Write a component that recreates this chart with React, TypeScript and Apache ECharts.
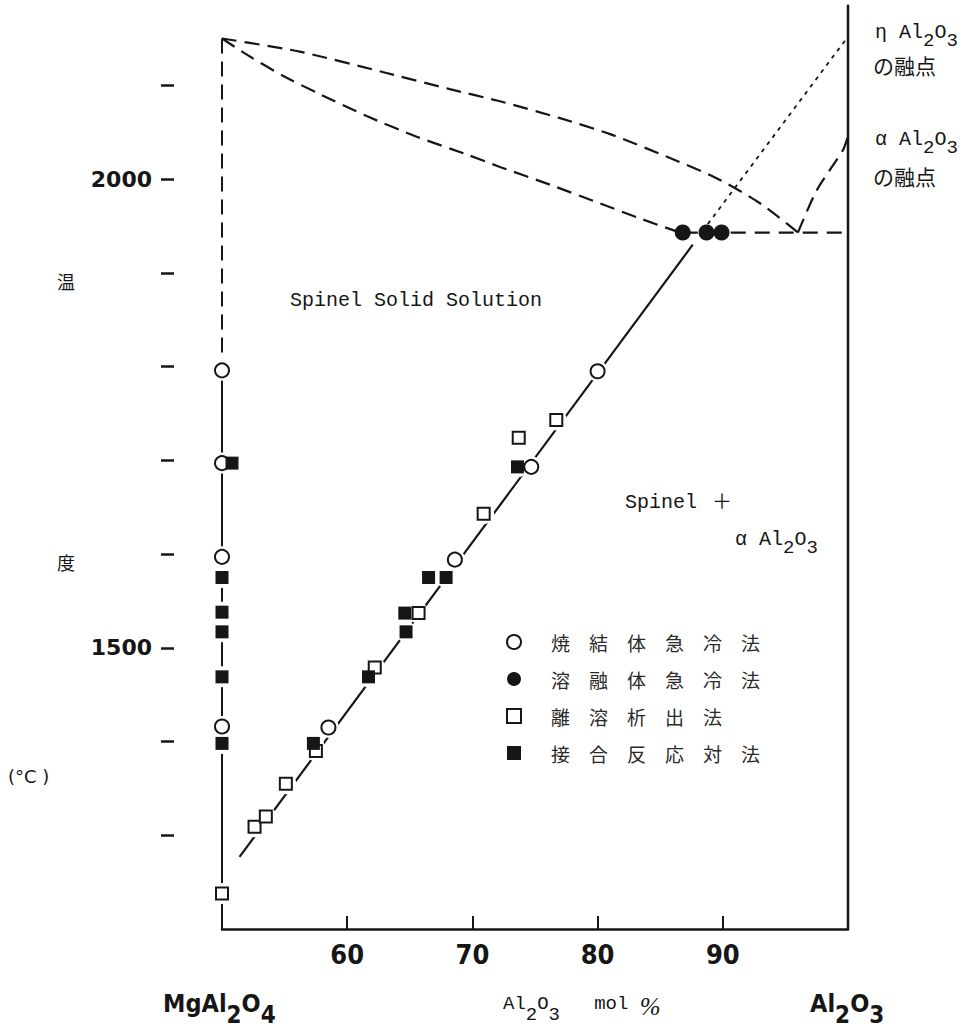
import React, { useEffect, useRef } from "react";
import * as echarts from "echarts";

// ---------- data (Al2O3 mol %, temperature °C) ----------
const xTicks = [60, 70, 80, 90];
const yTicks = [1300, 1400, 1500, 1600, 1700, 1800, 1900, 2000, 2100];
const yLabels = [1500, 2000];

const liquidusUpper = [[50, 2150], [56.2, 2136], [62.9, 2114], [68.2, 2096], [72.2, 2083], [77.0, 2065], [81.0, 2048], [85.5, 2024], [89.5, 2001], [93.0, 1974], [96.0, 1943]];
const solidusLower = [[50, 2150], [52.2, 2131], [54.9, 2110], [57.6, 2092], [61.6, 2067], [65.6, 2045], [69.6, 2026], [72.2, 2013], [76.2, 1994], [80.2, 1974], [83.6, 1957], [86.8, 1942]];
const alphaLiquidus = [[96.0, 1943], [97.5, 1988], [99.6, 2031], [100, 2046]];
const eutecticLine = [[86.8, 1943], [100, 1943]];
const solvus = [[51.4, 1277], [87.6, 1930]];
const solvusMetastable = [[88.8, 1952], [100, 2152]];
const leftUpper = [[50, 2150], [50, 1800]];
const leftLower = [[50, 1800], [50, 1200]];
const rightEdge = [[100, 2186], [100, 1200]];
const meltingPoints = [2157, 2046]; // η-Al2O3, α-Al2O3

const sinteredQuench = [[50, 1796], [50, 1697], [50, 1597], [50, 1416], [58.5, 1415], [68.6, 1594], [74.7, 1693], [80.0, 1795]];
const meltQuench = [[86.8, 1943], [88.7, 1943], [89.9, 1943]];
const exsolution = [[50, 1238], [52.6, 1309], [53.5, 1320], [55.1, 1355], [57.5, 1390], [62.2, 1479], [65.7, 1537], [70.9, 1643], [73.7, 1724], [76.7, 1743]];
const diffusionCouple = [[50.8, 1697], [50, 1575], [50, 1538], [50, 1517], [50, 1469], [50, 1398], [57.3, 1398], [61.7, 1469], [64.6, 1537], [64.7, 1517], [66.5, 1575], [67.9, 1575], [73.6, 1693]];

const legendNames = ["焼結体急冷法", "溶融体急冷法", "離溶析出法", "接合反応対法"];

// ---------- styling ----------
const INK = "#161616";
const MONO = "'Liberation Mono', 'DejaVu Sans Mono', monospace";
const CJK = "'Noto Sans CJK JP', sans-serif";
const BOLD = "'DejaVu Sans Condensed', 'DejaVu Sans', sans-serif";
const NARROW = "'Liberation Sans Narrow', 'DejaVu Sans Condensed', sans-serif";

const lineS = (data: number[][], ls: any, extra: any = {}) => ({
  type: "line",
  data,
  symbol: "none",
  silent: true,
  clip: false,
  z: 2,
  lineStyle: { color: INK, width: 2, cap: "butt", ...ls },
  ...extra,
});

const scat = (name: string, data: number[][], symbol: string, filled: boolean, size: number, z: number) => ({
  type: "scatter",
  name,
  data,
  symbol,
  symbolSize: size,
  silent: true,
  z,
  itemStyle: { color: filled ? INK : "#ffffff", borderColor: INK, borderWidth: filled ? 0 : 2, opacity: 1 },
});

const chem = (parts: [string, boolean][]) => parts.map(([t, s]) => `{${s ? "s" : "n"}|${t}}`).join("");
const richOf = (family: string, size: number, subSize: number, drop: number, weight: string = "normal") => ({
  n: { fontFamily: family, fontSize: size, fontWeight: weight, lineHeight: size + 2, verticalAlign: "top", fill: INK, color: INK },
  s: { fontFamily: family, fontSize: subSize, fontWeight: weight, lineHeight: size + 2, verticalAlign: "top", padding: [drop, 0, 0, 0], fill: INK, color: INK },
  p: { fontFamily: "'Liberation Serif', serif", fontSize: size + 6, fontStyle: "italic", lineHeight: size + 2, verticalAlign: "top", fill: INK, color: INK },
});

const txt = (x: number, y: number, text: string, font: string, extra: any = {}) => ({
  type: "text",
  x,
  y,
  silent: true,
  style: { text, font, fill: INK, textAlign: "left", verticalAlign: "middle", ...extra },
});

const richTxt = (x: number, yTop: number, text: string, rich: any) => ({
  type: "text",
  x,
  y: yTop,
  silent: true,
  style: { text, rich, fill: INK, textAlign: "left", verticalAlign: "top" },
});

const option: any = {
  animation: false,
  backgroundColor: "#ffffff",
  grid: { left: 222, right: 119, top: 1, bottom: 102, containLabel: false },
  xAxis: {
    type: "value",
    min: 50,
    max: 100,
    axisLine: { show: true, lineStyle: { color: INK, width: 2.5 } },
    axisTick: { show: true, inside: true, length: 13, customValues: xTicks, lineStyle: { color: INK, width: 2 } },
    axisLabel: {
      show: true,
      customValues: xTicks,
      margin: 12,
      color: INK,
      fontFamily: NARROW,
      fontWeight: "bold",
      fontSize: 27,
      formatter: (v: number) => String(v),
    },
    splitLine: { show: false },
  },
  yAxis: {
    type: "value",
    min: 1200,
    max: 2190,
    position: "left",
    offset: 48,
    axisLine: { show: false },
    axisTick: { show: true, inside: false, length: 13, customValues: yTicks, lineStyle: { color: INK, width: 2.5 } },
    axisLabel: {
      show: true,
      customValues: yLabels,
      margin: 22,
      color: INK,
      fontFamily: "'DejaVu Sans', sans-serif",
      fontWeight: "bold",
      fontSize: 22,
      formatter: (v: number) => String(v),
    },
    splitLine: { show: false },
  },
  legend: {
    data: legendNames,
    orient: "vertical",
    left: 501,
    top: 626,
    itemWidth: 14,
    itemHeight: 14,
    itemGap: 15,
    selectedMode: false,
    formatter: (name: string) => name.split("").join("\u3000"),
    textStyle: { fontFamily: CJK, fontSize: 19, lineHeight: 22, color: "#2a2a2a", padding: [0, 0, 0, 25] },
  },
  series: [
    lineS(liquidusUpper, { type: [15, 8], width: 2.2 }, { smooth: 0.25 }),
    lineS(solidusLower, { type: [15, 8], width: 2.2 }, { smooth: 0.25 }),
    lineS(alphaLiquidus, { type: [15, 8], width: 2.2 }, { smooth: 0.25 }),
    lineS(eutecticLine, { type: [15, 9], width: 2.2 }),
    lineS(leftUpper, { type: [15, 8], width: 2 }),
    lineS(leftLower, { width: 2 }),
    lineS(rightEdge, { width: 2.5 }),
    lineS(solvus, { width: 2.2 }),
    lineS(solvusMetastable, { type: [4, 5], width: 1.8 }),
    ...meltingPoints.map((t) => lineS([[100, t], [100.8, t]], { width: 2 })),
    {
      type: "scatter",
      data: [...sinteredQuench, ...exsolution, ...diffusionCouple],
      symbol: "circle",
      symbolSize: 21,
      silent: true,
      z: 3,
      itemStyle: { color: "#ffffff", opacity: 1 },
    },
    scat(legendNames[0], sinteredQuench, "circle", false, 14, 5),
    scat(legendNames[1], meltQuench, "circle", true, 16, 5),
    scat(legendNames[2], exsolution, "rect", false, 12, 6),
    scat(legendNames[3], diffusionCouple, "rect", true, 13, 7),
  ],
  graphic: [
    txt(57, 281, "温", `18px ${CJK}`),
    txt(57, 562, "度", `18px ${CJK}`),
    txt(8, 776, "(°C )", `18px 'DejaVu Sans', sans-serif`),
    txt(290, 300, "Spinel Solid Solution", `20px ${MONO}`),
    txt(625, 502, "Spinel", `20px ${MONO}`),
    txt(712, 500, "＋", `20px ${CJK}`),
    richTxt(735, 529, chem([["α Al", false], ["2", true], ["O", false], ["3", true]]), richOf(MONO, 20, 19, 9)),
    richTxt(875, 22, chem([["η Al", false], ["2", true], ["O", false], ["3", true]]), richOf(MONO, 20, 19, 9)),
    txt(873, 65, "の融点", `21px ${CJK}`),
    richTxt(875, 129, chem([["α Al", false], ["2", true], ["O", false], ["3", true]]), richOf(MONO, 20, 19, 9)),
    txt(873, 176, "の融点", `21px ${CJK}`),
    richTxt(163, 991, chem([["MgAl", false], ["2", true], ["O", false], ["4", true]]), richOf(BOLD, 25, 24, 12, "bold")),
    richTxt(503, 994, chem([["Al", false], ["2", true], ["O", false], ["3", true], ["   mol ", false]]) + "{p|%}", richOf(MONO, 19, 19, 11)),
    richTxt(810, 991, chem([["Al", false], ["2", true], ["O", false], ["3", true]]), richOf(BOLD, 25, 24, 12, "bold")),
  ],
};

export default function App() {
  const ref = useRef<HTMLDivElement>(null);
  useEffect(() => {
    if (!ref.current) return;
    const chart = echarts.init(ref.current, null, { renderer: "svg", width: 967, height: 1031 });
    chart.setOption(option);
    return () => chart.dispose();
  }, []);
  return (
    <div
      ref={ref}
      style={{ position: "fixed", left: 0, top: 0, width: 967, height: 1031, background: "#fff" }}
    />
  );
}
